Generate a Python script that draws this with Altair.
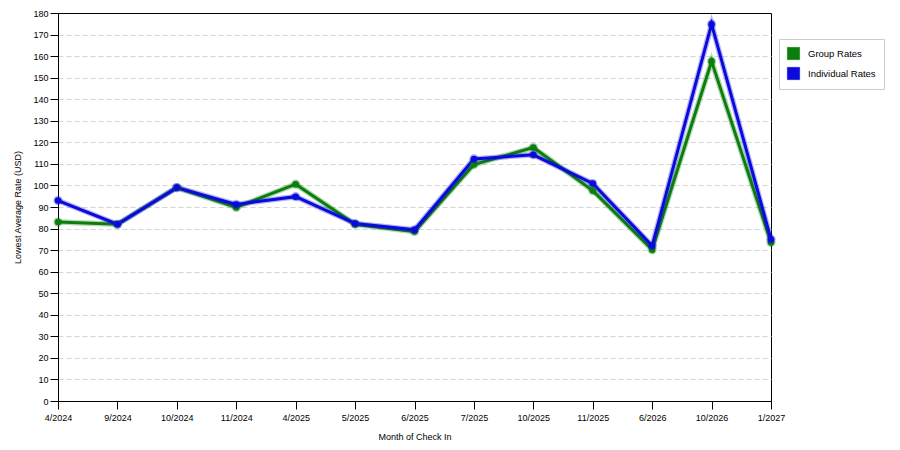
import altair as alt
import pandas as pd

months = ["4/2024", "9/2024", "10/2024", "11/2024", "4/2025", "5/2025", "6/2025",
          "7/2025", "10/2025", "11/2025", "6/2026", "10/2026", "1/2027"]
group_rates = [83.0, 82.0, 99.0, 89.8, 100.6, 82.0, 78.6, 109.7, 117.6, 97.6, 70.2, 157.6, 73.5]
individual_rates = [93.0, 82.0, 99.0, 91.2, 94.8, 82.3, 79.4, 112.3, 114.2, 100.9, 72.0, 174.8, 75.0]
series_names = ["Group Rates", "Individual Rates"]
series_colors = ["#0b7f0b", "#0a0adc"]
y_ticks = list(range(0, 181, 10))

rows = []
for s_i, (name, vals) in enumerate(zip(series_names, [group_rates, individual_rates])):
    for m, v in zip(months, vals):
        rows.append({"month": m, "rate": v, "series": name, "order": s_i})
df = pd.DataFrame(rows)

FONT = "Liberation Sans"

x_enc = alt.X("month:N", sort=months,
              scale=alt.Scale(type="point", padding=0),
              axis=alt.Axis(title="Month of Check In", labelAngle=0, tickSize=8,
                            labelPadding=4, titlePadding=10, grid=False))
y_enc = alt.Y("rate:Q", scale=alt.Scale(domain=[0, 180], nice=False, zero=True),
              axis=alt.Axis(title="Lowest Average Rate (USD)", values=y_ticks,
                            tickSize=8, labelPadding=2, titlePadding=10,
                            grid=True, gridDash=[5, 3], gridColor="#d4d4d4",
                            gridOpacity={"condition": {"test": "datum.value == 0 || datum.value == 180",
                                                       "value": 0},
                                         "value": 1}))
legend = alt.Legend(title=None, orient="none", legendX=721, legendY=26,
                    symbolType="square", symbolSize=150,
                    symbolStrokeColor="#224422", symbolStrokeWidth=0.6,
                    symbolOpacity=1,
                    labelFontSize=9.5, labelFont=FONT, labelColor="#000",
                    padding=8, rowPadding=5, labelOffset=8,
                    strokeColor="#cccccc", fillColor="#ffffff")
color_enc = alt.Color("series:N", scale=alt.Scale(domain=series_names, range=series_colors),
                      legend=legend)

base = alt.Chart(df).encode(x=x_enc, y=y_enc, color=color_enc)

halo = base.mark_line(strokeWidth=5.5, opacity=0.3)
line = base.mark_line(strokeWidth=3)
pts_halo = base.mark_point(size=85, opacity=0.35, filled=True, shape="circle")
pts = base.mark_point(size=42, opacity=1, filled=True, shape="circle")

layers = []
for name in series_names:
    f = alt.datum.series == name
    layers += [halo.transform_filter(f), line.transform_filter(f)]
for name in series_names:
    f = alt.datum.series == name
    layers += [pts_halo.transform_filter(f), pts.transform_filter(f)]

chart = alt.layer(*layers).properties(
    width=713, height=388,
    autosize=alt.AutoSizeParams(type="none"),
    padding={"left": 50, "top": 5, "right": 121, "bottom": 44},
).configure(background="#ffffff").configure_view(
    stroke="#000", strokeWidth=1
).configure_axis(
    domainColor="#000", tickColor="#000", labelColor="#000", titleColor="#000",
    labelFont=FONT, titleFont=FONT, labelFontSize=9, titleFontSize=9,
    titleFontWeight="normal", domainWidth=1, tickWidth=1
)

chart.save("out.html", embed_options={"renderer": "svg", "actions": False})
